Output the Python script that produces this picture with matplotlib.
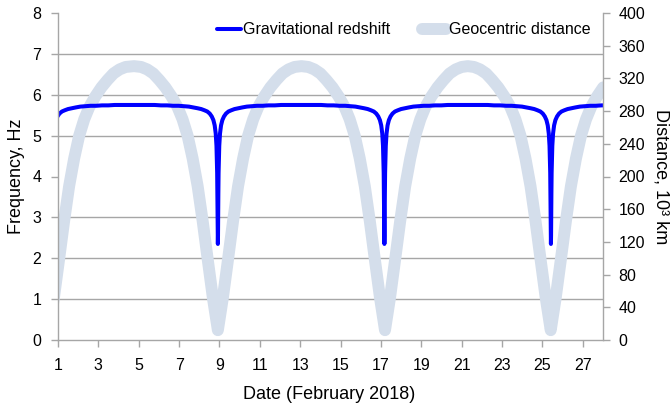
import matplotlib
matplotlib.use("Agg")
import matplotlib.pyplot as plt

plt.rcParams['font.family'] = ['Liberation Sans', 'DejaVu Sans']

# ---- Gravitational redshift (Hz) vs day of February 2018 ----
shift_days = [
    0.513, 0.601, 0.635, 0.646, 0.656, 0.663, 0.670, 0.677, 0.684, 0.694, 0.705, 0.739,
    0.776, 0.827, 0.892, 0.974, 1.074, 1.194, 1.334, 1.496, 1.678, 1.882, 2.105, 2.349,
    2.611, 2.889, 3.183, 3.489, 3.806, 4.131, 4.462, 4.795,
    5.128, 5.459, 5.784, 6.101, 6.407, 6.701, 6.979, 7.241, 7.485, 7.708, 7.912, 8.094,
    8.256, 8.396, 8.516, 8.616, 8.698, 8.763, 8.814, 8.851, 8.885, 8.896, 8.906, 8.913,
    8.920,
    8.927, 8.934, 8.944, 8.955, 8.989, 9.026, 9.077, 9.142, 9.224, 9.324, 9.444, 9.584,
    9.746, 9.928, 10.132, 10.355, 10.599, 10.861, 11.139, 11.433, 11.739, 12.056, 12.381,
    12.712, 13.045,
    13.378, 13.709, 14.034, 14.351, 14.657, 14.951, 15.229, 15.491, 15.735, 15.958,
    16.162, 16.344, 16.506, 16.646, 16.766, 16.866, 16.948, 17.013, 17.064, 17.101,
    17.135, 17.146, 17.156, 17.163, 17.170,
    17.177, 17.184, 17.194, 17.205, 17.239, 17.276, 17.327, 17.392, 17.474, 17.574,
    17.694, 17.834, 17.996, 18.178, 18.382, 18.605, 18.849, 19.111, 19.389, 19.683,
    19.989, 20.306, 20.631, 20.962, 21.295,
    21.628, 21.959, 22.284, 22.601, 22.907, 23.201, 23.479, 23.741, 23.985, 24.208,
    24.412, 24.594, 24.756, 24.896, 25.016, 25.116, 25.198, 25.263, 25.314, 25.351,
    25.385, 25.396, 25.406, 25.413, 25.420,
    25.427, 25.434, 25.444, 25.455, 25.489, 25.526, 25.577, 25.642, 25.724, 25.824,
    25.944, 26.084, 26.246, 26.428, 26.632, 26.855, 27.099, 27.361, 27.639, 27.933,
    28.239,
]
shift_hz = [
    5.25, 4.75, 4.09, 3.60, 3.05, 2.56, 2.35, 2.56, 3.05, 3.60, 4.09, 4.75,
    5.05, 5.25, 5.38, 5.47, 5.54, 5.59, 5.62, 5.65, 5.67, 5.69, 5.71, 5.72,
    5.73, 5.73, 5.74, 5.74, 5.75, 5.75, 5.75, 5.75,
    5.75, 5.75, 5.75, 5.74, 5.74, 5.73, 5.73, 5.72, 5.71, 5.69, 5.67, 5.65,
    5.62, 5.59, 5.54, 5.47, 5.38, 5.25, 5.05, 4.75, 4.09, 3.60, 3.05, 2.56,
    2.35,
    2.56, 3.05, 3.60, 4.09, 4.75, 5.05, 5.25, 5.38, 5.47, 5.54, 5.59, 5.62,
    5.65, 5.67, 5.69, 5.71, 5.72, 5.73, 5.73, 5.74, 5.74, 5.75, 5.75,
    5.75, 5.75,
    5.75, 5.75, 5.75, 5.74, 5.74, 5.73, 5.73, 5.72, 5.71, 5.69,
    5.67, 5.65, 5.62, 5.59, 5.54, 5.47, 5.38, 5.25, 5.05, 4.75,
    4.09, 3.60, 3.05, 2.56, 2.35,
    2.56, 3.05, 3.60, 4.09, 4.75, 5.05, 5.25, 5.38, 5.47, 5.54,
    5.59, 5.62, 5.65, 5.67, 5.69, 5.71, 5.72, 5.73, 5.73, 5.74,
    5.74, 5.75, 5.75, 5.75, 5.75,
    5.75, 5.75, 5.75, 5.74, 5.74, 5.73, 5.73, 5.72, 5.71, 5.69,
    5.67, 5.65, 5.62, 5.59, 5.54, 5.47, 5.38, 5.25, 5.05, 4.75,
    4.09, 3.60, 3.05, 2.56, 2.35,
    2.56, 3.05, 3.60, 4.09, 4.75, 5.05, 5.25, 5.38, 5.47, 5.54,
    5.59, 5.62, 5.65, 5.67, 5.69, 5.71, 5.72, 5.73, 5.73, 5.74,
    5.74,
]

# ---- Geocentric distance (10^3 km) vs day of February 2018 ----
dist_days = [
    0.30, 0.55, 0.80, 1.05, 1.30, 1.55, 1.80, 2.05, 2.30, 2.55, 2.85, 3.15, 3.45, 3.75,
    4.05, 4.35, 4.77,
    5.12, 5.42, 5.72, 6.02, 6.32, 6.62, 6.92, 7.17, 7.42, 7.67, 7.92, 8.17, 8.42, 8.67,
    8.92,
    9.17, 9.42, 9.67, 9.92, 10.17, 10.42, 10.67, 10.92, 11.22, 11.52, 11.82, 12.12,
    12.42, 12.72, 13.06,
    13.40, 13.70, 14.00, 14.30, 14.60, 14.90, 15.20, 15.45, 15.70, 15.95, 16.20, 16.45,
    16.70, 16.95, 17.20,
    17.45, 17.70, 17.95, 18.20, 18.45, 18.70, 18.95, 19.20, 19.50, 19.80, 20.10, 20.40,
    20.70, 21.00, 21.30,
    21.61, 21.91, 22.21, 22.51, 22.81, 23.11, 23.41, 23.66, 23.91, 24.16, 24.41, 24.66,
    24.91, 25.16, 25.41,
    25.66, 25.91, 26.16, 26.41, 26.66, 26.91, 27.16, 27.41, 27.71, 28.01,
]
dist_km = [
    52, 12, 52, 98, 145, 188, 222, 250, 270, 285, 298, 309, 318, 326, 331, 334, 335,
    334, 331, 326, 318, 309, 298, 285, 270, 250, 222, 188, 145, 98, 52,
    12,
    52, 98, 145, 188, 222, 250, 270, 285, 298, 309, 318, 326, 331, 334, 335,
    334, 331, 326, 318, 309, 298, 285, 270, 250, 222, 188, 145, 98, 52,
    12,
    52, 98, 145, 188, 222, 250, 270, 285, 298, 309, 318, 326, 331, 334, 335,
    334, 331, 326, 318, 309, 298, 285, 270, 250, 222, 188, 145, 98, 52,
    12,
    52, 98, 145, 188, 222, 250, 270, 285, 298, 309,
]

x_ticks = list(range(1, 28, 2))
freq_ticks = list(range(0, 9))
dist_ticks = list(range(0, 401, 40))
grid_dist = list(range(0, 401, 50))

GRAY = '#A6A6A6'
BLUE = '#0000FF'
LIGHT = '#D4DEEB'

fig = plt.figure(figsize=(6.71, 4.03), dpi=100)
pos = [58 / 671, 1 - 340 / 403, (603 - 58) / 671, (340 - 13) / 403]
ax2 = fig.add_axes(pos)   # distance (behind)
ax = fig.add_axes(pos)    # frequency (front)
ax.patch.set_visible(False)

# distance axis (right)
l2, = ax2.plot(dist_days, dist_km, color=LIGHT, lw=8.6, solid_capstyle='round',
               solid_joinstyle='round', label='Geocentric distance')
ax2.set_xlim(1, 28)
ax2.set_ylim(0, 400)
ax2.yaxis.tick_right()
ax2.yaxis.set_label_position('right')
ax2.set_yticks(dist_ticks)
ax2.set_yticks(grid_dist, minor=True)
ax2.tick_params(axis='y', which='minor', length=0)
ax2.grid(which='minor', axis='y', color=GRAY, lw=1.0)
ax2.set_axisbelow(True)
ax2.tick_params(axis='y', which='major', direction='out', length=5, width=1,
                color=GRAY, labelsize=11.5, pad=6)
ax2.set_xticks([])
for s in ax2.spines.values():
    s.set_visible(False)
ax2.set_ylabel('Distance, 10³ km', rotation=270, fontsize=13)
ax2.yaxis.set_label_coords(1.122, 0.5)

# frequency axis (left)
l1, = ax.plot(shift_days, shift_hz, color=BLUE, lw=2.9, solid_capstyle='round',
              solid_joinstyle='round', label='Gravitational redshift')
ax.set_xlim(1, 28)
ax.set_ylim(0, 8)
ax.set_xticks(x_ticks)
ax.set_yticks(freq_ticks)
ax.tick_params(axis='both', direction='out', length=5, width=1, color=GRAY,
               labelsize=11.5)
ax.tick_params(axis='y', pad=7)
ax.tick_params(axis='x', pad=8)
ax.spines['top'].set_visible(False)
for side in ['left', 'bottom', 'right']:
    ax.spines[side].set_color(GRAY)
    ax.spines[side].set_linewidth(1)
ax.set_xlabel('Date (February 2018)', fontsize=13)
ax.xaxis.set_label_coords(0.497, -0.14)
ax.set_ylabel('Frequency, Hz', fontsize=13)
ax.yaxis.set_label_coords(-0.06, 0.5)

fig.legend(handles=[l1, l2], loc='center', bbox_to_anchor=(403.5 / 671, 1 - 30 / 403),
           ncol=2, frameon=False, fontsize=11.5, handlelength=1.5,
           handletextpad=0.15, columnspacing=2.0, borderpad=0)

fig.savefig('out.png', dpi=100)
